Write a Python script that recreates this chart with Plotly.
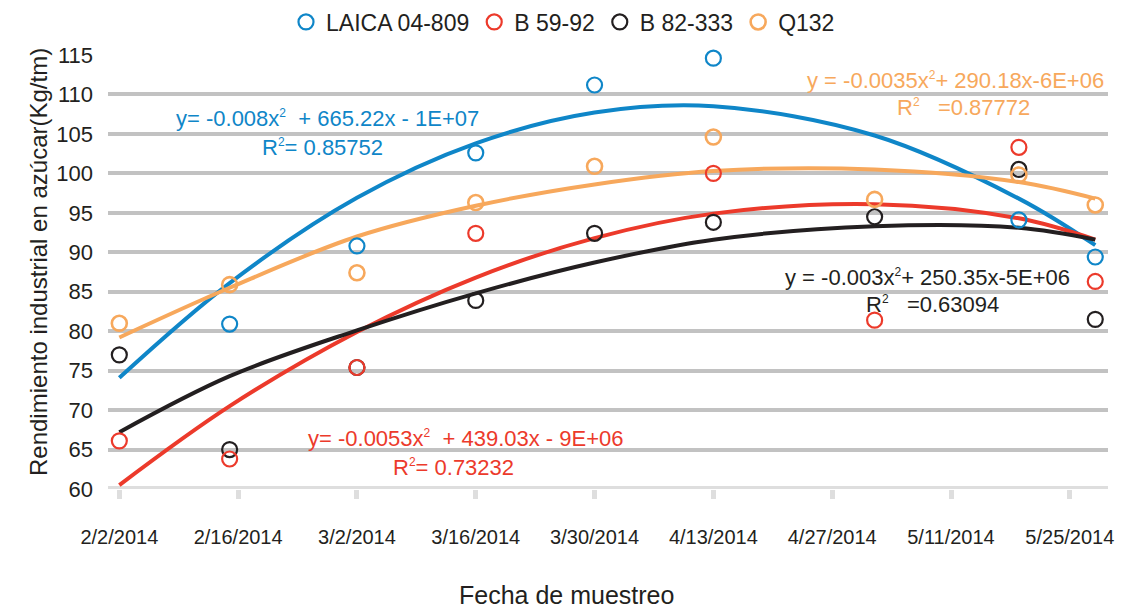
import plotly.graph_objects as go

# ---- data ----
dates = ['2014-02-02', '2014-02-15', '2014-03-02', '2014-03-16', '2014-03-30',
         '2014-04-13', '2014-05-02', '2014-05-19', '2014-05-28']
laica = [None, 80.9, 90.8, 102.6, 111.2, 114.6, None, 94.1, 89.4]
b5992 = [66.1, 63.8, 75.4, 92.4, None, 100.0, 81.4, 103.3, 86.3]
b82333 = [77.0, 65.0, 75.4, 83.9, 92.4, 93.8, 94.5, 100.5, 81.5]
q132 = [81.0, 85.9, 87.4, 96.3, 100.9, 104.6, 96.7, 99.8, 96.0]

# polynomial trend lines
trend_laica = [74.1, 86.1, 96.9, 103.8, 107.7, 108.5, 104.8, 96.8, 90.9]
trend_b5992 = [60.5, 70.5, 79.9, 86.8, 91.8, 94.9, 96.1, 94.3, 91.6]
trend_b82333 = [67.2, 74.3, 80.1, 84.8, 88.7, 91.6, 93.3, 93.1, 91.6]
trend_q132 = [79.2, 85.5, 92.0, 95.9, 98.6, 100.3, 100.5, 98.9, 96.8]

tick_dates = ['2014-02-02', '2014-02-16', '2014-03-02', '2014-03-16', '2014-03-30',
              '2014-04-13', '2014-04-27', '2014-05-11', '2014-05-25']
tick_text = ['2/2/2014', '2/16/2014', '3/2/2014', '3/16/2014', '3/30/2014',
             '4/13/2014', '4/27/2014', '5/11/2014', '5/25/2014']
y_ticks = [60, 65, 70, 75, 80, 85, 90, 95, 100, 105, 110, 115]

names = ['LAICA 04-809', 'B 59-92', 'B 82-333', 'Q132']
colors = ['#0f86c8', '#ec3a2b', '#231f20', '#f7a85c']
series = [laica, b5992, b82333, q132]
trends = [trend_laica, trend_b5992, trend_b82333, trend_q132]

FONT = 'Liberation Sans, Arial, Helvetica, sans-serif'
fig = go.Figure()

# trend curves
for name, col, tr in zip(names, colors, trends):
    fig.add_trace(go.Scatter(x=dates, y=tr, mode='lines',
                             line=dict(color=col, width=4, shape='spline', smoothing=1.0),
                             showlegend=False, hoverinfo='skip'))

# markers (drawn in order so red sits above black where they overlap)
order = [2, 0, 1, 3]
for i in order:
    fig.add_trace(go.Scatter(x=dates, y=series[i], mode='markers', name=names[i], cliponaxis=False,
                             marker=dict(symbol='circle-open', size=15, color=colors[i],
                                         line=dict(width=2.6 if i == 3 else 2.2, color=colors[i])),
                             legendrank=i + 1))

# baseline at 60 (lighter, thicker)
fig.add_shape(type='line', xref='paper', yref='y', x0=0, x1=1, y0=60, y1=60,
              line=dict(color='#dedede', width=6), layer='below')


def px(xp, yp):
    return (xp - 108) / 1000.0, (489 - yp) / 434.0


SUP = '<sup><span style="font-size:12px">2</span></sup>'
ann = [
    ('y= -0.008x' + SUP + '  + 665.22x - 1E+07', 327, 118, colors[0]),
    ('R' + SUP + '= 0.85752', 322, 147, colors[0]),
    ('y = -0.0035x' + SUP + '+ 290.18x-6E+06', 955, 80, colors[3]),
    ('R' + SUP + '   =0.87772', 963, 108, colors[3]),
    ('y = -0.003x' + SUP + '+ 250.35x-5E+06', 927, 277, colors[2]),
    ('R' + SUP + '   =0.63094', 932, 304, colors[2]),
    ('y= -0.0053x' + SUP + '  + 439.03x - 9E+06', 466, 438, colors[1]),
    ('R' + SUP + '= 0.73232', 453, 467, colors[1]),
]
for text, xp, yp, col in ann:
    ax, ay = px(xp, yp)
    fig.add_annotation(text=text, x=ax, y=ay, xref='paper', yref='paper', showarrow=False,
                       xanchor='center', yanchor='middle', font=dict(family=FONT, size=22, color=col))

# axis titles
ax, ay = px(566, 595)
fig.add_annotation(text='Fecha de muestreo', x=ax, y=ay, xref='paper', yref='paper', showarrow=False,
                   xanchor='center', yanchor='middle', font=dict(family=FONT, size=25, color='#231f20'))
ax, ay = px(38, 262)
fig.add_annotation(text='Rendimiento industrial en azúcar(Kg/tm)', x=ax, y=ay, xref='paper', yref='paper',
                   showarrow=False, textangle=-90, xanchor='center', yanchor='middle',
                   font=dict(family=FONT, size=24, color='#231f20'))

# the page body adds an 8px offset, so margins are reduced by 8px on the left/top
fig.update_layout(
    width=1124, height=608,
    margin=dict(l=100, r=24, t=47, b=127, autoexpand=False),
    plot_bgcolor='white', paper_bgcolor='white',
    font=dict(family=FONT, color='#231f20'),
    legend=dict(orientation='h', x=0.455, y=(489 - 22) / 434.0, xanchor='center', yanchor='middle',
                font=dict(family=FONT, size=23, color='#231f20'), itemwidth=30,
                traceorder='normal', bgcolor='rgba(0,0,0,0)'),
    xaxis=dict(type='date', range=['2014-01-31 16:00', '2014-05-29 12:00'],
               tickvals=tick_dates, ticktext=tick_text, showgrid=False, zeroline=False,
               showline=False, ticks='outside', ticklen=9, tickwidth=5, tickcolor='#dedede',
               tickfont=dict(family=FONT, size=20, color='#231f20'), ticklabelstandoff=21),
    yaxis=dict(range=[60, 115], tickvals=y_ticks, showgrid=True, gridcolor='#c2c2c2', gridwidth=4,
               zeroline=False, showline=False, ticks='', ticklabelstandoff=14,
               tickfont=dict(family=FONT, size=22, color='#231f20')),
)

fig.write_html('out.html')
